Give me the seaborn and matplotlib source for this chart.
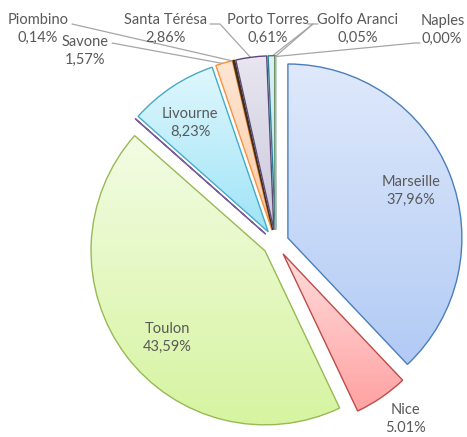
import numpy as np
import matplotlib
matplotlib.use("Agg")
import matplotlib.pyplot as plt
import seaborn as sns

sns.set_theme(style="white")
plt.rcParams['font.family'] = ['Lato', 'DejaVu Sans']

# data: clockwise from 12 o'clock
ports = ['Marseille', 'Nice', 'Toulon', '', 'Livourne', 'Savone', 'Piombino',
         'Santa Térésa', 'Porto Torres', 'Golfo Aranci', 'Naples']
shares = [37.96, 5.01, 43.59, 0.03, 8.23, 1.57, 0.14, 2.86, 0.61, 0.05, 0.00]
share_labels = ['37,96%', '5.01%', '43,59%', '', '8,23%', '1,57%', '0,14%',
                '2,86%', '0,61%', '0,05%', '0,00%']

# gradient fills (top, bottom) and edges, Excel style
tops = ['#dfe9fb', '#ffdcdc', '#f3fce4', '#cbbfdc', '#dff7fd', '#fee6d4', '#6b5434',
        '#e8e6f0', '#def0f5', '#d0e2ad', '#c6d9f1']
bottoms = ['#b2cbf5', '#ffa2a2', '#d6f4a0', '#a995c4', '#9fe4f7', '#fccaa6', '#4a3a22',
           '#ccc8dc', '#b7dde8', '#a9c576', '#8db3e2']
edges = ['#4a7ebb', '#be4b48', '#98b954', '#7a5fa0', '#46aac5', '#f69240', '#3d2f1a',
         '#5c4776', '#2c7c93', '#77933c', '#8db3e2']

W, H = 467, 437
CX, CY, R = 275.6, 242.9, 174.0
TXT = '#595959'
LINE = '#a6a6a6'


def px(x, y):
    return (x - CX) / R, (CY - y) / R


fig = plt.figure(figsize=(W / 100, H / 100), dpi=100)
ax = fig.add_axes([0, 0, 1, 1])

explode = [0.076] * len(shares)
wedges, _ = ax.pie(shares, startangle=90, counterclock=False, explode=explode,
                   radius=1.0, wedgeprops=dict(linewidth=1.0))

for w, t, b, e in zip(wedges, tops, bottoms, edges):
    w.set_facecolor('none')
    w.set_edgecolor(e)
    w.set_zorder(3)
    ext = w.get_path().get_extents()
    c0 = np.array(matplotlib.colors.to_rgb(t))
    c1 = np.array(matplotlib.colors.to_rgb(b))
    g = np.linspace(0, 1, 128)[:, None, None]
    img = (c0 * (1 - g) + c1 * g) * np.ones((1, 2, 3))
    im = ax.imshow(img, extent=[ext.x0, ext.x1, ext.y0, ext.y1], origin='upper',
                   aspect='auto', zorder=2, interpolation='bilinear')
    im.set_clip_path(w)

ax.set_xlim(-CX / R, (W - CX) / R)
ax.set_ylim(-(H - CY) / R, CY / R)
ax.set_aspect('auto')
ax.axis('off')

fs = 10.5
ls = 1.38

# labels inside / near the large slices
inside = {'Marseille': (411, 191), 'Toulon': (167, 338), 'Livourne': (190, 123),
          'Nice': (405, 419)}
for i, name in enumerate(ports):
    if name in inside:
        x, y = px(*inside[name])
        ax.text(x, y, f"{name}\n{share_labels[i]}", ha='center', va='center',
                fontsize=fs, color=TXT, linespacing=ls, zorder=5)

# outside labels at the top with leader lines
# name: (label centre px, leader start px, elbow px or None)
outside = {
    'Piombino': ((38, 29), (72, 24), None),
    'Savone': ((85, 51), (112, 43), None),
    'Santa Térésa': ((166, 29), (210, 24), (220, 24)),
    'Porto Torres': ((268, 29), (308, 24), (313, 24)),
    'Golfo Aranci': ((358, 29), (318, 24), (313, 24)),
    'Naples': ((421, 30), (420, 43), (415, 43)),
}
for i, name in enumerate(ports):
    if name not in outside:
        continue
    (lx, ly), start, elbow = outside[name]
    ha = 'left' if name == 'Naples' else 'center'
    x, y = px(lx, ly)
    ax.text(x, y, f"{name}\n{share_labels[i]}", ha=ha, va='center',
            fontsize=fs, color=TXT, linespacing=ls, zorder=5)
    w = wedges[i]
    mid = np.deg2rad((w.theta1 + w.theta2) / 2)
    cx, cy = w.center
    tip = (cx + 0.995 * np.cos(mid), cy + 0.995 * np.sin(mid))
    pts = [px(*start)]
    if elbow is not None:
        pts.append(px(*elbow))
    pts.append(tip)
    xs, ys = zip(*pts)
    ax.plot(xs, ys, color=LINE, lw=0.9, zorder=1)

fig.savefig('out.png', dpi=100, facecolor='white')
